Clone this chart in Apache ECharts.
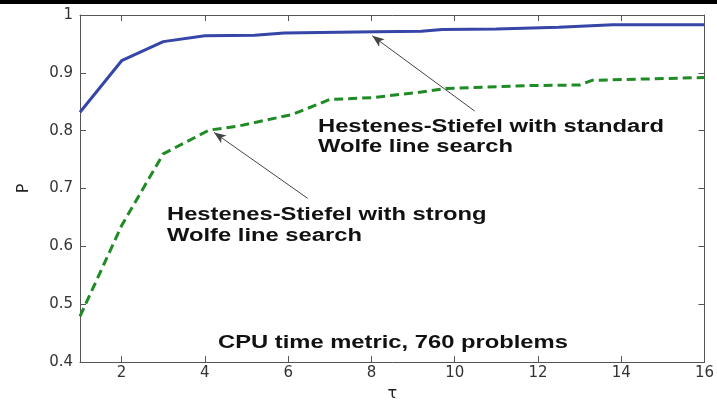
<!DOCTYPE html>
<html>
<head>
<meta charset="utf-8">
<script src="https://cdn.jsdelivr.net/npm/echarts@6/dist/echarts.min.js"></script>
<style>
  html, body { margin: 0; padding: 0; background: #fff; }
  #chart { width: 717px; height: 407px; }
</style>
</head>
<body>
<div id="chart"></div>
<script>
// Performance profile: fraction of problems P solved within factor tau of the best CPU time
const tauStandard = [1, 2, 3, 4, 5.2, 5.9, 8.1, 9.2, 9.7, 11, 12.5, 13.8, 16];
const pStandard   = [0.832, 0.921, 0.954, 0.964, 0.965, 0.969, 0.971, 0.972, 0.975, 0.976, 0.979, 0.983, 0.983];

const tauStrong = [1, 2, 3, 4.1, 4.8, 6.1, 7, 8, 9.1, 9.8, 11.8, 13, 13.3, 16];
const pStrong   = [0.479, 0.636, 0.760, 0.801, 0.808, 0.828, 0.854, 0.857, 0.866, 0.873, 0.878, 0.879, 0.887, 0.892];

const xTicks = [2, 4, 6, 8, 10, 12, 14, 16];
const yTicks = [0.4, 0.5, 0.6, 0.7, 0.8, 0.9, 1];

const standardLabel = ['Hestenes-Stiefel with standard', 'Wolfe line search'];
const strongLabel   = ['Hestenes-Stiefel with strong', 'Wolfe line search'];
const metricLabel   = 'CPU time metric, 760 problems';

// arrows pointing from each caption to its curve, as [tail, head] in (tau, P)
const standardArrow = [[10.48, 0.834], [8.02, 0.964]];
const strongArrow   = [[6.47, 0.683], [4.22, 0.797]];

const pairs = (xs, ys) => xs.map((x, i) => [x, ys[i]]);

const axisColor = '#555';
const tickFont = { fontFamily: 'DejaVu Sans', fontSize: 15, color: '#333' };

function arrowLine(a) {
  return {
    silent: true,
    symbol: ['none', 'arrow'],
    symbolSize: [7, 12],
    label: { show: false },
    lineStyle: { color: '#444', width: 1, type: 'solid' },
    emphasis: { disabled: true },
    data: [[{ coord: a[0] }, { coord: a[1] }]]
  };
}

function caption(lines, x, y0, gap) {
  return lines.map((t, i) => ({
    type: 'text',
    x: x,
    y: y0 + i * gap,
    scaleX: 1.32,
    silent: true,
    style: {
      text: t,
      x: 0,
      y: 0,
      textVerticalAlign: 'middle',
      font: 'bold 18px "Liberation Sans", Arial, sans-serif',
      fill: '#111'
    }
  }));
}

const chart = echarts.init(document.getElementById('chart'), null, { renderer: 'canvas' });

chart.setOption({
  animation: false,
  backgroundColor: '#fff',
  grid: { left: 80, right: 12, top: 15, bottom: 41, containLabel: false },
  xAxis: [
    {
      type: 'value', min: 1, max: 16, position: 'bottom',
      name: 'τ', nameLocation: 'middle', nameGap: 20,
      nameTextStyle: { fontFamily: 'DejaVu Sans', fontSize: 16, color: '#222' },
      axisLine: { show: true, onZero: false, lineStyle: { color: axisColor, width: 1 } },
      axisTick: { show: true, inside: true, length: 6, customValues: xTicks, lineStyle: { color: axisColor } },
      axisLabel: { margin: 4, customValues: xTicks, ...tickFont },
      splitLine: { show: false }
    },
    {
      type: 'value', min: 1, max: 16, position: 'top',
      axisLine: { show: true, onZero: false, lineStyle: { color: axisColor, width: 1 } },
      axisTick: { show: true, inside: true, length: 6, customValues: xTicks, lineStyle: { color: axisColor } },
      axisLabel: { show: false },
      splitLine: { show: false }
    }
  ],
  yAxis: [
    {
      type: 'value', min: 0.4, max: 1, position: 'left',
      name: 'P', nameLocation: 'middle', nameGap: 48, nameRotate: 90,
      nameTextStyle: { fontFamily: 'DejaVu Sans', fontSize: 16, color: '#222' },
      axisLine: { show: true, onZero: false, lineStyle: { color: axisColor, width: 1 } },
      axisTick: { show: true, inside: true, length: 6, customValues: yTicks, lineStyle: { color: axisColor } },
      axisLabel: { margin: 7, customValues: yTicks, formatter: v => String(+v.toFixed(1)), ...tickFont },
      splitLine: { show: false }
    },
    {
      type: 'value', min: 0.4, max: 1, position: 'right',
      axisLine: { show: true, onZero: false, lineStyle: { color: axisColor, width: 1 } },
      axisTick: { show: true, inside: true, length: 6, customValues: yTicks, lineStyle: { color: axisColor } },
      axisLabel: { show: false },
      splitLine: { show: false }
    }
  ],
  series: [
    {
      name: 'standard Wolfe',
      type: 'line',
      xAxisIndex: 0, yAxisIndex: 0,
      data: pairs(tauStandard, pStandard),
      showSymbol: false,
      lineStyle: { color: '#3546a8', width: 3 },
      markLine: arrowLine(standardArrow),
      z: 3
    },
    {
      name: 'strong Wolfe',
      type: 'line',
      xAxisIndex: 0, yAxisIndex: 0,
      data: pairs(tauStrong, pStrong),
      showSymbol: false,
      lineStyle: { color: '#1f8b24', width: 3, type: [9, 5] },
      markLine: arrowLine(strongArrow),
      z: 3
    }
  ],
  graphic: [
    { type: 'rect', shape: { x: 0, y: 0, width: 717, height: 4 }, style: { fill: '#000' }, silent: true },
    ...caption(standardLabel, 318, 127.5, 20),
    ...caption(strongLabel, 167, 215, 21),
    ...caption([metricLabel], 218, 343, 20)
  ]
});
</script>
</body>
</html>
